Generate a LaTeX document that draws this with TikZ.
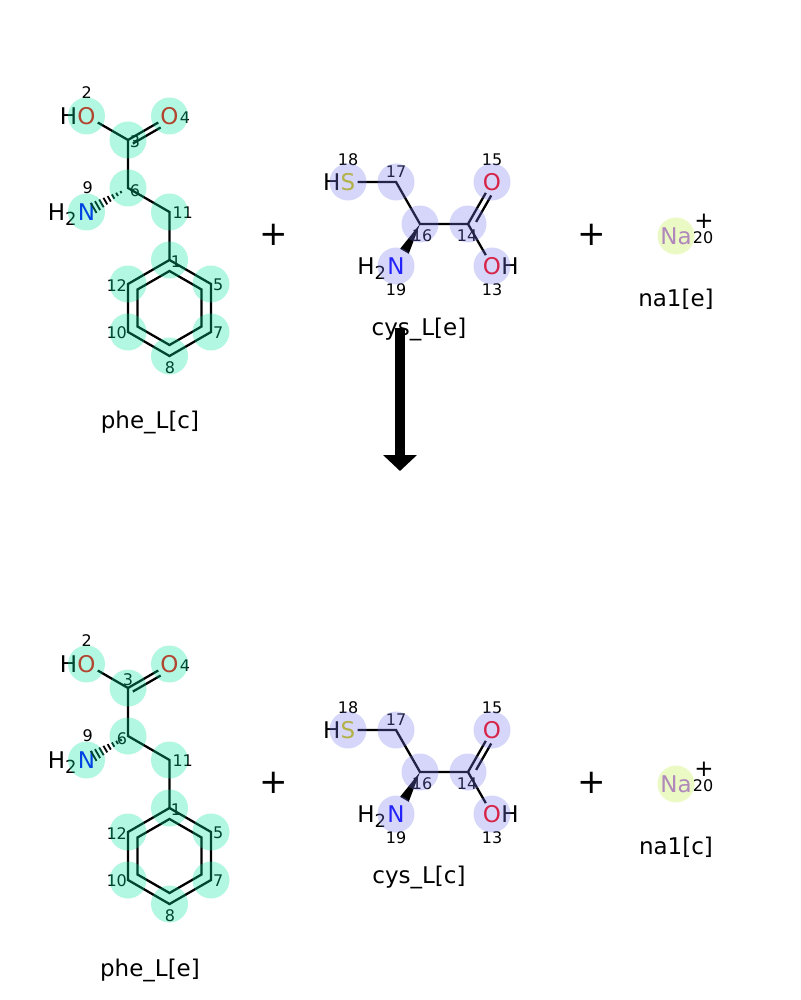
\documentclass[tikz,border=0pt]{standalone}
\usepackage{fontspec}
\setmainfont{DejaVu Sans}
\usepackage{tikz}
\usetikzlibrary{positioning}
\usetikzlibrary{calc}
\usetikzlibrary{arrows.meta}
\definecolor{ocol}{RGB}{255,0,0}
\definecolor{ncol}{RGB}{0,0,255}
\definecolor{scol}{RGB}{204,204,0}
\definecolor{nacol}{RGB}{171,92,242}
\definecolor{phehl}{RGB}{0,230,160}
\definecolor{cyshl}{RGB}{120,120,240}
\definecolor{nahl}{RGB}{190,240,60}
\newcommand{\subtwo}{\raisebox{-5pt}{\fontsize{18}{18}\selectfont 2}}
\tikzstyle{bond}=[line width=2.3pt]
\tikzstyle{hash}=[line width=1.8pt]
\tikzstyle{atom}=[inner sep=2pt,font=\fontsize{23}{23}\selectfont]
\tikzstyle{hyd}=[inner sep=0pt,font=\fontsize{23}{23}\selectfont]
\tikzstyle{idx}=[inner sep=0pt,font=\fontsize{16}{16}\selectfont]
\tikzstyle{molname}=[anchor=base,font=\fontsize{23}{23}\selectfont]
\tikzstyle{plussign}=[inner sep=0pt,font=\fontsize{34}{34}\selectfont]
\tikzstyle{rxn}=[line width=10pt,-{Triangle[length=16pt,width=33pt]}]
\tikzset{>=latex}

\begin{document}
\begin{tikzpicture}[x=1pt,y=-1pt]
\useasboundingbox[fill=white] (0,0) rectangle (800,1000);

% Two rows: {row/shift/names/position of index 3 and 6}
\foreach \r/\dy/\phe/\cys/\naname/\tx/\ty/\sx in {
    top/0/phe\_L[c]/cys\_L[e]/na1[e]/135/142/135,
    bot/548/phe\_L[e]/cys\_L[c]/na1[c]/128/132/122
} {
\begin{scope}[yshift=-\dy pt]

    % phe_L: carbons and hetero atoms
    \coordinate (\r-c3) at (128,140);
    \coordinate (\r-c6) at (128,188);
    \coordinate (\r-c11) at (169.5,212);
    \coordinate (\r-c1) at (169.5,260);
    \coordinate (\r-c5) at (211,284);
    \coordinate (\r-c7) at (211,332);
    \coordinate (\r-c8) at (169.5,356);
    \coordinate (\r-c10) at (128,332);
    \coordinate (\r-c12) at (128,284);
    \coordinate (\r-ring) at (169.5,308);
    \node[atom, text=ocol] (\r-o2) at (86.5,116) {O};
    \node[hyd, left=-2pt of \r-o2.base west, anchor=base east] (\r-h2) {H};
    \node[atom, text=ocol] (\r-o4) at (169.5,116) {O};
    \node[atom, text=ncol] (\r-n9) at (86.5,212) {N};
    \node[hyd, left=-1pt of \r-n9.base west, anchor=base east] (\r-h9) {H\subtwo};

    % phe_L: bonds
    \draw[bond] (\r-o2) -- (\r-c3) -- (\r-c6) -- (\r-c11) -- (\r-c1);
    \draw[bond] (\r-c3) -- (\r-o4);
    \draw[bond] ($(\r-c3)!0.05!(\r-o4)!5.5pt!-90:(\r-o4)$) -- ($(\r-c3)!0.72!(\r-o4)!5.5pt!-90:(\r-o4)$);
    \draw[bond] (\r-c1) -- (\r-c5) -- (\r-c7) -- (\r-c8) -- (\r-c10) -- (\r-c12) -- cycle;
    \draw[bond] ($(\r-ring)+(90:37)$) \foreach \a in {150,210,270,330,30} { -- ($(\r-ring)+(\a:37)$) } -- cycle;
    % hashed wedge to N
    \foreach \k in {0,...,7} {
        \pgfmathsetmacro\hp{0.17+\k*0.094}
        \draw[hash] ($(\r-c6)!\hp!(\r-n9)!{\hp*7pt}!90:(\r-n9)$) -- ($(\r-c6)!\hp!(\r-n9)!{\hp*7pt}!-90:(\r-n9)$);
    }

    % phe_L: atom indices
    \foreach \n/\x/\y in {2/86.7/93, 4/185/118, 3/\tx/\ty, 9/87.7/188, 6/\sx/191,
        11/182.7/213, 1/176/262, 12/116.7/286, 5/218.3/285, 10/116.7/333, 7/218.3/333, 8/170/368}
        \node[idx] (\r-i\n) at (\x,\y) {\n};

    % cys_L: carbons and hetero atoms
    \coordinate (\r-c17) at (396,182);
    \coordinate (\r-c16) at (420,224);
    \coordinate (\r-c14) at (468,224);
    \node[atom, text=scol] (\r-s18) at (348,182) {S};
    \node[hyd, left=-2pt of \r-s18.base west, anchor=base east] (\r-h18) {H};
    \node[atom, text=ocol] (\r-o15) at (492,182) {O};
    \node[atom, text=ocol] (\r-o13) at (492,266) {O};
    \node[hyd, right=-2pt of \r-o13.base east, anchor=base west] (\r-h13) {H};
    \node[atom, text=ncol] (\r-n19) at (396,266) {N};
    \node[hyd, left=-1pt of \r-n19.base west, anchor=base east] (\r-h19) {H\subtwo};

    % cys_L: bonds
    \draw[bond] (\r-s18) -- (\r-c17) -- (\r-c16) -- (\r-c14) -- (\r-o13);
    \draw[bond] (\r-c14) -- (\r-o15);
    \draw[bond] ($(\r-c14)!0.12!(\r-o15)!6pt!-90:(\r-o15)$) -- ($(\r-c14)!0.75!(\r-o15)!6pt!-90:(\r-o15)$);
    % solid wedge to N
    \fill (\r-c16) -- ($(\r-c16)!0.65!(\r-n19)!5pt!90:(\r-n19)$) -- ($(\r-c16)!0.65!(\r-n19)!5pt!-90:(\r-n19)$) -- cycle;

    % cys_L: atom indices
    \foreach \n/\x/\y in {18/348/160, 17/396/172, 15/492/160, 16/422/236, 14/467/236, 19/396/290, 13/492/290}
        \node[idx] (\r-i\n) at (\x,\y) {\n};

    % na1
    \node[atom, text=nacol] (\r-na) at (676,236) {Na};
    \node[atom, inner sep=0pt] (\r-chg) at (704,221) {+};
    \node[idx] (\r-i20) at (703,238) {20};

    % highlight discs laid over the atoms
    \foreach \a in {o2,o4,c3,c6,n9,c11,c1,c5,c7,c8,c10,c12}
        \fill[phehl, fill opacity=0.3] (\r-\a) circle (18.5pt);
    \foreach \a in {s18,c17,c16,c14,o15,o13,n19}
        \fill[cyshl, fill opacity=0.3] (\r-\a) circle (18.5pt);
    \fill[nahl, fill opacity=0.3] (\r-na) circle (18.5pt);

    % names and plus signs
    \node[molname] (\r-phe) at (150,428) {\phe};
    \node[molname] (\r-cys) at (419,335) {\cys};
    \node[molname] (\r-na1) at (676,306) {\naname};
    \node[plussign] (\r-p1) at (274,235) {+};
    \node[plussign] (\r-p2) at (592,235) {+};

\end{scope}
}

% reaction arrow
\coordinate (arrtop) at (400,328);
\coordinate (arrtip) at (400,471);
\draw[rxn] (arrtop) -- (arrtip);

\end{tikzpicture}
\end{document}
